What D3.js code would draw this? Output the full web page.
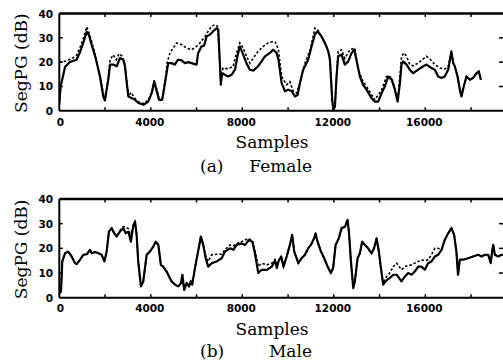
<!DOCTYPE html>
<html>
<head>
<meta charset="utf-8">
<script src="https://cdn.jsdelivr.net/npm/d3@7"></script>
<style>
  body { margin: 0; background: #fff; }
  svg { display: block; }
  .tick-label { font-family: "DejaVu Sans", sans-serif; font-weight: bold; font-size: 10.5px; }
  .title { font-family: "DejaVu Serif", serif; font-size: 17px; }
</style>
</head>
<body>
<div id="chart"></div>
<script>
// x tick labels, minor ticks, y ticks
let xTicks = [0, 4000, 8000, 12000, 16000];
let xMinor = [2000, 4000, 6000, 8000, 10000, 12000, 14000, 16000, 18000];
let yTicks = [0, 10, 20, 30, 40];
let yInner = [10, 20, 30];

let panelNames = ["(a)", "(b)"];
let speakers = ["Female", "Male"];

// [sample, SegPG dB]  -- female, solid
let femaleSolid = [[0,3],[60,10],[250,18],[450,20],[750,21],[900,24],[1050,28],[1200,32.5],[1300,31],[1420,27],[1570,22.4],[1780,14],[1920,5.9],[1995,4.2],[2140,12.8],[2220,19],[2360,19],[2510,18.3],[2650,21.7],[2800,21],[2870,18.3],[2950,11.4],[3020,5.9],[3170,5.2],[3310,4.5],[3460,3.2],[3680,2.5],[3890,3.8],[4040,7.3],[4150,12],[4260,8],[4360,4.5],[4500,4.5],[4620,11.4],[4760,19.6],[4900,19.6],[5050,19],[5190,21],[5350,20.7],[5490,19.6],[5640,20],[5850,19.4],[6000,19],[6070,23.8],[6220,26.5],[6330,26.8],[6440,30.6],[6580,31.3],[6730,32.7],[6880,34],[6950,33.4],[7060,10.7],[7120,15.5],[7240,14.8],[7380,14.1],[7530,14.8],[7680,16.9],[7790,22.4],[7890,26.5],[8010,23.8],[8180,19.6],[8330,16.9],[8480,16.5],[8690,18.3],[8840,20.3],[8990,22.4],[9210,23.8],[9350,25.1],[9500,23.8],[9580,21],[9720,11.4],[9870,8],[10010,8.7],[10160,8],[10300,5.9],[10420,6.6],[10520,11.4],[10660,16.9],[10880,21],[11030,26.5],[11170,31.3],[11290,32.7],[11460,30.6],[11610,27.9],[11760,24.4],[11830,21],[11930,4.5],[11980,0.4],[12050,1.8],[12120,14.1],[12190,22.4],[12340,23.1],[12480,19],[12630,20.3],[12780,23.8],[12890,25.1],[12990,21],[13140,14.1],[13280,10.7],[13430,8.7],[13650,5.2],[13790,3.8],[13940,3.8],[14090,7.3],[14230,10],[14380,14],[14530,12.8],[14670,8.7],[14790,3.8],[14890,11.4],[14960,19],[15030,20.3],[15180,19],[15320,16.9],[15470,15.5],[15690,16.9],[15910,18.3],[16050,19],[16270,17.6],[16420,16.9],[16560,14.1],[16710,13.5],[16850,14.1],[17000,16.9],[17140,24.4],[17220,19.6],[17290,18.3],[17410,14.1],[17510,8.7],[17580,5.9],[17680,10],[17800,14.1],[17950,12.8],[18090,13.5],[18240,15.5],[18340,16.2],[18430,12.8]];

// female, dashed
let femaleDashed = [[0,20],[290,20.5],[550,21.5],[770,23],[900,26],[1030,29],[1200,34.5],[1340,31],[1570,23],[1780,14.5],[1950,6],[1995,4.5],[2140,13],[2220,21],[2360,23],[2490,21],[2610,23.5],[2740,22.5],[2870,19],[2960,11],[3020,6],[3140,7.5],[3310,5],[3440,3.8],[3660,3],[3880,4.2],[4060,8],[4150,12.5],[4270,8.5],[4360,5],[4490,5],[4620,12],[4720,20],[4840,23.8],[4980,25.8],[5130,27.9],[5350,27.2],[5560,25.8],[5780,25.1],[6000,26.5],[6150,27.9],[6370,30.6],[6510,32.7],[6660,34.8],[6800,35.4],[6920,34.8],[7060,14.1],[7160,17.6],[7380,17.2],[7600,18.3],[7750,23.8],[7890,27.9],[8040,25.8],[8180,22.4],[8330,19.6],[8480,21.7],[8690,24.4],[8920,26.5],[9130,27.9],[9350,28.5],[9420,28.5],[9500,27.2],[9580,25],[9720,14.1],[9940,10.7],[10080,12],[10230,8],[10380,7.3],[10520,11.5],[10740,19.6],[10960,25],[11100,30.6],[11170,34],[11290,33.4],[11460,30.6],[11610,28],[11760,24.5],[11830,22],[11930,4.5],[11980,0.4],[12050,1.8],[12120,14.1],[12190,24.4],[12340,25.1],[12480,21.5],[12700,25.1],[12920,25.8],[13060,17],[13280,12],[13500,9],[13790,4.5],[14090,8.5],[14300,14.1],[14380,14.5],[14530,13.5],[14670,9],[14790,4.2],[14890,14],[14960,22.4],[15070,23.8],[15180,22.4],[15320,19],[15470,18.5],[15690,19.6],[15910,21.3],[16050,22.4],[16200,21.3],[16420,19],[16640,17.6],[16850,17.2],[17000,18],[17140,24.4],[17220,19.6],[17290,18.3],[17410,14.1],[17510,8.7],[17580,5.9],[17680,10],[17800,14.1],[17950,12.8],[18090,13.5],[18240,15.5],[18340,16.2],[18430,12.8]];

// male, solid
let maleSolid = [[0,2],[75,2.5],[130,14.7],[250,18],[390,18.7],[540,16.7],[690,14],[760,13.6],[910,15.4],[1050,17.4],[1200,17.6],[1340,19.4],[1420,18],[1560,18.5],[1710,18],[1850,17.4],[1970,14.7],[2070,18.7],[2170,26.8],[2290,28.2],[2400,26.1],[2510,24.8],[2650,26.8],[2800,28.2],[2900,26.1],[3020,26.8],[3130,22.7],[3240,29.5],[3310,30.8],[3380,25.5],[3450,14.7],[3570,4.6],[3670,6.6],[3820,17.4],[3960,18.7],[4110,20.7],[4210,22.7],[4330,21.4],[4440,13.3],[4540,12.6],[4690,10.6],[4830,8],[4910,6.6],[5060,5.3],[5200,4.6],[5320,5.9],[5380,9.3],[5460,3.2],[5570,5.9],[5670,4.6],[5750,6.6],[5810,5.3],[5930,12],[6080,19.4],[6190,24.8],[6290,21.4],[6400,16],[6510,12.6],[6660,14],[6880,14.7],[7100,16],[7240,18.7],[7460,20],[7610,19.4],[7750,21.4],[7970,22],[8120,21.4],[8290,23.4],[8440,22.7],[8550,18],[8700,10],[8850,11.3],[9070,11.3],[9290,12.6],[9430,15],[9510,12],[9580,14.7],[9700,16.7],[9800,12.6],[9940,16.7],[10080,21.4],[10180,25.5],[10270,18.7],[10450,14],[10590,16],[10740,17.4],[10880,20],[11000,21.4],[11140,24.1],[11200,26.1],[11290,22.7],[11440,18.7],[11580,16],[11730,12.6],[11870,10],[11970,12],[12080,21.4],[12220,24.1],[12340,28.2],[12490,28.8],[12600,31.5],[12660,26.8],[12750,14.7],[12850,3.9],[12920,6.6],[13040,16],[13140,18],[13240,22.7],[13360,21.4],[13500,20],[13650,18],[13760,20],[13870,24.1],[13970,18.7],[14060,12],[14160,5.3],[14300,7],[14450,8],[14600,9.3],[14750,9.3],[14960,6.6],[15110,8.6],[15250,10],[15400,9.3],[15540,10.6],[15690,12.6],[15830,12.6],[15980,11.3],[16120,14],[16270,14.7],[16420,16.7],[16560,17.4],[16710,19.4],[16850,23.4],[17000,26.1],[17140,28.2],[17260,25.5],[17360,18.7],[17430,9.3],[17510,15.4],[17650,15.4],[17870,16],[18090,16.7],[18310,17.4],[18460,16.7],[18600,17.4],[18750,17.4],[18860,14],[18920,18.7],[18970,21.4],[19040,17.4],[19180,16.7],[19330,17.4],[19500,17]];

// male, dashed
let maleDashed = [[0,2],[75,2.5],[130,14.7],[250,18],[390,18.7],[540,16.7],[690,14],[760,13.6],[910,15.4],[1050,17.4],[1200,17.6],[1340,19.4],[1420,18],[1560,18.5],[1710,18],[1850,17.4],[1970,14.7],[2070,18.7],[2170,26.8],[2290,28.2],[2400,26.1],[2510,24.8],[2650,27.2],[2800,28.8],[2900,28.5],[3020,28],[3130,25],[3240,29.5],[3310,30.8],[3380,25.5],[3450,14.7],[3570,4.6],[3670,6.6],[3820,17.4],[3960,18.7],[4110,20.7],[4210,22.7],[4330,21.4],[4440,13.3],[4540,12.6],[4690,10.6],[4830,8],[4910,6.6],[5060,5.3],[5200,4.6],[5320,5.9],[5380,9.3],[5460,3.2],[5570,5.9],[5670,4.6],[5750,6.6],[5810,5.3],[5930,12],[6080,19.4],[6190,24.8],[6290,21.4],[6400,17],[6510,14.7],[6660,17.4],[6880,17.6],[7100,17.6],[7240,19.4],[7460,21.4],[7610,21],[7750,22],[7970,22.7],[8120,23.4],[8290,24],[8440,23],[8550,19.4],[8700,12.6],[8850,14],[9070,13.3],[9290,14],[9430,15.5],[9510,14],[9580,15],[9700,16.7],[9800,12.6],[9940,16.7],[10080,21.4],[10180,25.5],[10270,18.7],[10450,14],[10590,16],[10740,17.4],[10880,20],[11000,21.4],[11140,24.1],[11200,26.1],[11290,22.7],[11440,18.7],[11580,16],[11730,12.6],[11870,10],[11970,12],[12080,21.4],[12220,24.1],[12340,28.2],[12490,28.8],[12600,31.5],[12660,26.8],[12750,14.7],[12850,3.9],[12920,6.6],[13040,16],[13140,18],[13240,22.7],[13360,21.4],[13500,20],[13650,18],[13760,20],[13870,24.1],[13970,18.7],[14060,12],[14160,6],[14300,8.5],[14450,10],[14600,12.6],[14750,14],[14960,11.3],[15110,12.6],[15250,13],[15400,13.3],[15540,14],[15690,14.7],[15830,15.4],[15980,15],[16120,15.4],[16270,17.4],[16420,20],[16560,20],[16710,19.4],[16850,23.4],[17000,26.1],[17140,28.2],[17260,25.5],[17360,18.7],[17430,9.3],[17510,15.4],[17650,15.4],[17870,16],[18090,16.7],[18310,17.4],[18460,16.7],[18600,17.4],[18750,17.4],[18860,14],[18920,18.7],[18970,21.4],[19040,17.4],[19180,16.7],[19330,17.4],[19500,17]];

let w = 503, h = 362;
let left = 59.3, right = 505;
let panels = [
  { top: 13.5, bottom: 110.8, solid: femaleSolid, dashed: femaleDashed, label: panelNames[0], name: speakers[0], capY: 61 },
  { top: 199, bottom: 297.7, solid: maleSolid, dashed: maleDashed, label: panelNames[1], name: speakers[1], capY: 59.5 }
];

let svg = d3.select("#chart").append("svg")
  .attr("width", w)
  .attr("height", h);

let x = d3.scaleLinear()
  .domain([0, (right - left) / 0.022875])
  .range([left, right]);

panels.forEach(function(p, i) {
  let y = d3.scaleLinear().domain([0, 40]).range([p.bottom, p.top]);
  let g = svg.append("g");

  g.append("clipPath").attr("id", "clip" + i)
    .append("rect")
    .attr("x", left).attr("y", p.top - 3)
    .attr("width", right - left).attr("height", p.bottom - p.top + 4);

  ////////// lines //////////
  let line = d3.line()
    .x(function(d) { return x(d[0]); })
    .y(function(d) { return y(d[1]); });

  g.append("path")
    .datum(p.dashed)
    .attr("clip-path", "url(#clip" + i + ")")
    .attr("d", line)
    .attr("fill", "none")
    .attr("stroke", "#000")
    .attr("stroke-width", 1.6)
    .attr("stroke-dasharray", "2.5,2");

  g.append("path")
    .datum(p.solid)
    .attr("clip-path", "url(#clip" + i + ")")
    .attr("d", line)
    .attr("fill", "none")
    .attr("stroke", "#000")
    .attr("stroke-width", 2.2)
    .attr("stroke-linejoin", "round");

  ////////// frame //////////
  g.append("line").attr("x1", left).attr("x2", right).attr("y1", p.top).attr("y2", p.top)
    .attr("stroke", "#000").attr("stroke-width", 2.5);
  g.append("line").attr("x1", left).attr("x2", right).attr("y1", p.bottom).attr("y2", p.bottom)
    .attr("stroke", "#000").attr("stroke-width", 2);
  g.append("line").attr("x1", left).attr("x2", left).attr("y1", p.top).attr("y2", p.bottom)
    .attr("stroke", "#000").attr("stroke-width", 2);
  g.append("line").attr("x1", right).attr("x2", right).attr("y1", p.top).attr("y2", p.bottom)
    .attr("stroke", "#000").attr("stroke-width", 2);

  ////////// ticks //////////
  g.selectAll(".xt-top").data(xMinor).enter().append("line")
    .attr("x1", function(d) { return x(d); }).attr("x2", function(d) { return x(d); })
    .attr("y1", p.top).attr("y2", p.top + 3.5)
    .attr("stroke", "#000").attr("stroke-width", 1.5);
  g.selectAll(".xt-bot").data(xMinor).enter().append("line")
    .attr("x1", function(d) { return x(d); }).attr("x2", function(d) { return x(d); })
    .attr("y1", p.bottom).attr("y2", p.bottom - 3.5)
    .attr("stroke", "#000").attr("stroke-width", 1.5);
  g.selectAll(".yt-l").data(yInner).enter().append("line")
    .attr("x1", left).attr("x2", left + 3.5)
    .attr("y1", function(d) { return y(d); }).attr("y2", function(d) { return y(d); })
    .attr("stroke", "#000").attr("stroke-width", 1.5);
  g.selectAll(".yt-r").data(yInner).enter().append("line")
    .attr("x1", right).attr("x2", right - 6)
    .attr("y1", function(d) { return y(d); }).attr("y2", function(d) { return y(d); })
    .attr("stroke", "#000").attr("stroke-width", 1.5);

  ////////// tick labels //////////
  g.selectAll(".xl").data(xTicks).enter().append("text")
    .attr("class", "tick-label")
    .attr("x", function(d) { return d === 0 ? x(d) + 1 : x(d) - 1; })
    .attr("y", p.bottom + 14.7)
    .attr("text-anchor", "middle")
    .text(function(d) { return d; });

  g.selectAll(".yl").data(yTicks).enter().append("text")
    .attr("class", "tick-label")
    .attr("x", 53)
    .attr("y", function(d) { return y(d) + 4; })
    .attr("text-anchor", "end")
    .text(function(d) { return d; });

  ////////// titles //////////
  g.append("text")
    .attr("class", "title")
    .attr("transform", "translate(27," + ((p.top + p.bottom) / 2 + 1) + ") rotate(-90)")
    .attr("text-anchor", "middle")
    .text("SegPG (dB)");

  g.append("text")
    .attr("class", "title")
    .attr("x", 272)
    .attr("y", p.bottom + 37)
    .attr("text-anchor", "middle")
    .text("Samples");

  g.append("text")
    .attr("class", "title")
    .attr("x", 200)
    .attr("y", p.bottom + p.capY)
    .text(p.label);

  g.append("text")
    .attr("class", "title")
    .attr("x", 312)
    .attr("y", p.bottom + p.capY)
    .attr("text-anchor", "end")
    .text(p.name);
});
</script>
</body>
</html>
